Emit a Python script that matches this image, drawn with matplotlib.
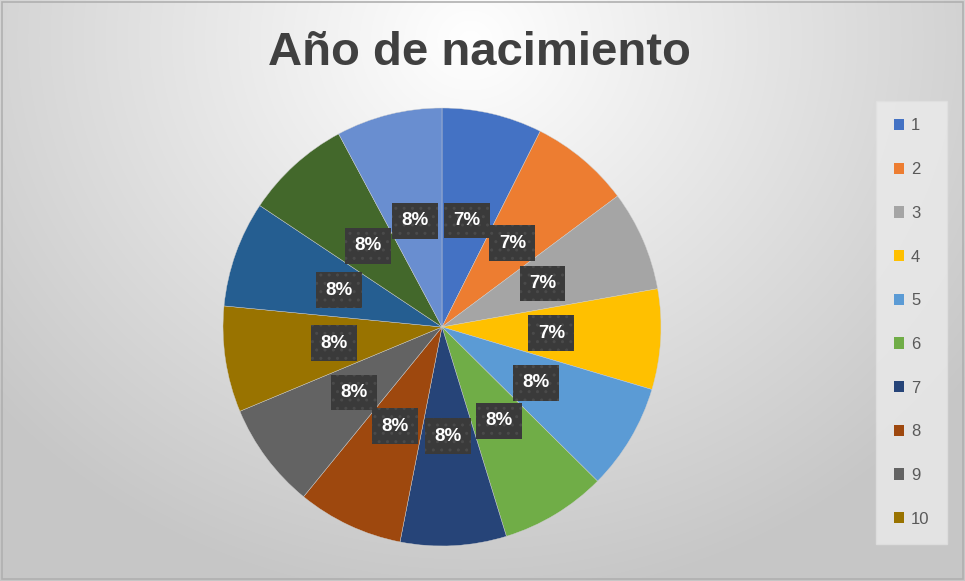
import numpy as np
import matplotlib
matplotlib.use("Agg")
import matplotlib.pyplot as plt
from matplotlib.patches import Patch, Rectangle

# Datos del gráfico
categorias = [str(i) for i in range(1, 14)]
valores = [7.4, 7.4, 7.4, 7.4, 7.82, 7.82, 7.82, 7.82, 7.82, 7.82, 7.82, 7.82, 7.82]
colores = ["#4472C4", "#ED7D31", "#A5A5A5", "#FFC000", "#5B9BD5", "#70AD47",
           "#264478", "#9E480E", "#636363", "#997300", "#255E91", "#43682B", "#698ED0"]
titulo = "Año de nacimiento"

W, H = 965, 581
fig = plt.figure(figsize=(W / 100, H / 100), dpi=100)

# Fondo con degradado radial
bg = fig.add_axes([0, 0, 1, 1])
yy, xx = np.mgrid[0:H, 0:W]
d = np.sqrt(((xx - 470) / 620.0) ** 2 + ((yy - 40) / 560.0) ** 2)
nivel = np.clip(1.0 - 0.22 * d, 0.78, 1.0)
bg.imshow(np.dstack([nivel, nivel, nivel]), extent=[0, W, H, 0], aspect="auto")
bg.add_patch(Rectangle((2, 2), W - 4, H - 4, fill=False, edgecolor="#b0b0b0", lw=1.2))
bg.set_xlim(0, W)
bg.set_ylim(H, 0)
bg.axis("off")

# Tarta
cx, cy, r = 442, 327, 219
ax = fig.add_axes([(cx - r) / W, (H - cy - r) / H, 2 * r / W, 2 * r / H])
wedges, textos, autotextos = ax.pie(
    valores, colors=colores, startangle=90, counterclock=False, radius=1,
    autopct="%1.0f%%", pctdistance=0.5,
    wedgeprops=dict(edgecolor="#d0d0d0", linewidth=0.3),
    textprops=dict(color="white", fontsize=13.5, fontweight="bold", family="Liberation Sans"))
for t in autotextos:
    t.set_bbox(dict(boxstyle="square,pad=0.5", facecolor="#3a3a3a", edgecolor="#4a4a4a",
                    hatch="..", linewidth=0))
ax.set_xlim(-1, 1)
ax.set_ylim(-1, 1)
ax.set_aspect("equal")
ax.axis("off")

fig.text(0.497, 0.908, titulo, ha="center", va="center", fontsize=34,
         fontweight="bold", color="#404040", family="Liberation Sans")

# Leyenda (solo se ven 10 entradas)
handles = [Patch(facecolor=colores[i], edgecolor="none") for i in range(10)]
leg = fig.legend(handles, categorias[:10], loc="upper left",
                 bbox_to_anchor=(881 / W, 1 - 106 / H), frameon=True,
                 fontsize=12, labelspacing=1.72, handlelength=0.65, handleheight=0.65,
                 handletextpad=0.4, borderpad=0.75, borderaxespad=0)
leg.get_frame().set_facecolor("#ebebeb")
leg.get_frame().set_edgecolor("#e0e0e0")
leg.get_frame().set_boxstyle("square")
for t in leg.get_texts():
    t.set_color("#595959")
    t.set_family("Liberation Sans")

fig.savefig("out.png", dpi=100)
